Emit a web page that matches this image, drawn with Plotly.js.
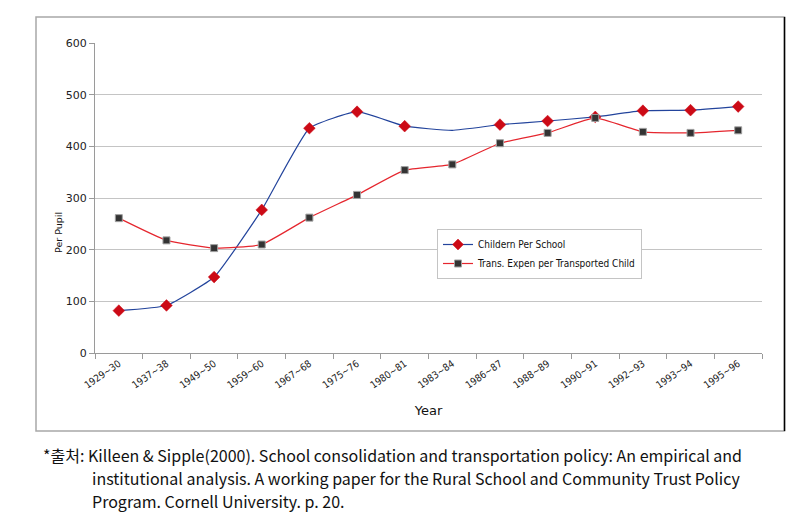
<!DOCTYPE html>
<html>
<head>
<meta charset="utf-8">
<script src="https://cdn.plot.ly/plotly-3.0.1.min.js"></script>
<style>html,body{margin:0;padding:0;background:#fff;}#chart{width:805px;height:522px;}</style>
</head>
<body>
<div id="chart"></div>
<script>
const categories = ["1929~30","1937~38","1949~50","1959~60","1967~68","1975~76","1980~81","1983~84","1986~87","1988~89","1990~91","1992~93","1993~94","1995~96"];
const childrenPerSchool = [82, 92, 147, 277, 435, 467, 439, 431, 442, 449, 457, 469, 470, 477];
const transExpenPerChild = [261, 218, 203, 210, 262, 306, 354, 365, 406, 426, 455, 428, 426, 431];
const yTicks = [0, 100, 200, 300, 400, 500, 600];
const seriesNames = ["Childern Per School", "Trans. Expen per Transported Child"];
const footnote = [
  "*출처: Killeen & Sipple(2000). School consolidation and transportation policy: An empirical and",
  "institutional analysis. A working paper for the Rural School and Community Trust Policy",
  "Program. Cornell University. p. 20."
];

const W = 805, H = 522;
const M = {l: 95, r: 43, t: 43, b: 169};
const pw = W - M.l - M.r, ph = H - M.t - M.b;
const px = x => (x - M.l) / pw;
const py = y => (H - M.b - y) / ph;

// hide marker where the source chart shows none
const blueSizes = childrenPerSchool.map((v, i) => i === 7 ? 0 : 9);

const traces = [
  {
    x: categories, y: childrenPerSchool, name: seriesNames[0],
    type: "scatter", mode: "lines+markers",
    line: {color: "#23449c", width: 1.2, shape: "spline", smoothing: 0.4},
    marker: {symbol: "diamond", size: blueSizes, color: "#cc0a16", opacity: 1, line: {width: 0.5, color: "#cc0a16"}}
  },
  {
    x: categories, y: transExpenPerChild, name: seriesNames[1],
    type: "scatter", mode: "lines+markers",
    line: {color: "#e5262e", width: 1.2, shape: "spline", smoothing: 0.4},
    marker: {symbol: "square", size: 7, color: "#333333", line: {width: 1, color: "#a0a0a0"}}
  }
];

const fnFont = {family: "Noto Sans CJK KR, sans-serif", size: 16, color: "#111"};
const annotations = [
  {text: "Per Pupil", xref: "paper", yref: "paper", x: px(58), y: py(233), xanchor: "center", yanchor: "middle",
   textangle: -90, showarrow: false, font: {family: "DejaVu Sans, sans-serif", size: 9.5, color: "#111"}},
  {text: footnote[0], xref: "paper", yref: "paper", x: px(41), y: py(455), xanchor: "left", yanchor: "middle",
   showarrow: false, font: fnFont},
  {text: footnote[1], xref: "paper", yref: "paper", x: px(90), y: py(478), xanchor: "left", yanchor: "middle",
   showarrow: false, font: fnFont},
  {text: footnote[2], xref: "paper", yref: "paper", x: px(90), y: py(501), xanchor: "left", yanchor: "middle",
   showarrow: false, font: fnFont}
];

const shapes = [
  {type: "rect", xref: "paper", yref: "paper", x0: px(36), x1: px(784.5), y0: py(431), y1: py(17),
   line: {color: "#a8a8a8", width: 1.5}, layer: "below"},
  {type: "line", xref: "paper", yref: "paper", x0: px(784.5), x1: px(784.5), y0: py(431), y1: py(17),
   line: {color: "#000", width: 1.5}}
];

const layout = {
  width: W, height: H,
  margin: M,
  paper_bgcolor: "#fff", plot_bgcolor: "#fff",
  font: {family: "DejaVu Sans, sans-serif", color: "#111"},
  showlegend: true,
  legend: {
    x: px(437), y: py(229), xanchor: "left", yanchor: "top",
    bgcolor: "#fff", bordercolor: "#c4c4c4", borderwidth: 1,
    font: {family: "DejaVu Sans Condensed, DejaVu Sans, sans-serif", size: 10, color: "#111"},
    itemwidth: 30, tracegroupgap: 0
  },
  xaxis: {
    type: "category", range: [-0.5, categories.length - 0.5],
    tickangle: -35, tickfont: {family: "DejaVu Sans Condensed, DejaVu Sans, sans-serif", size: 10, color: "#222"},
    ticks: "outside", ticklen: 5, tickcolor: "#9a9a9a", tickson: "boundaries",
    showline: true, linecolor: "#9a9a9a", linewidth: 1, showgrid: false, zeroline: false,
    title: {text: "Year", font: {family: "DejaVu Sans, sans-serif", size: 13, color: "#111"}, standoff: 16}
  },
  yaxis: {
    range: [0, 600], tickvals: yTicks, ticktext: yTicks.map(String),
    tickfont: {family: "DejaVu Sans, sans-serif", size: 11, color: "#222"},
    ticks: "outside", ticklen: 5, tickcolor: "#9a9a9a",
    showline: true, linecolor: "#9a9a9a", linewidth: 1,
    showgrid: true, gridcolor: "#c4c4c4", gridwidth: 1, zeroline: false
  },
  annotations: annotations,
  shapes: shapes
};

Plotly.newPlot("chart", traces, layout, {displayModeBar: false, staticPlot: true});
</script>
</body>
</html>
